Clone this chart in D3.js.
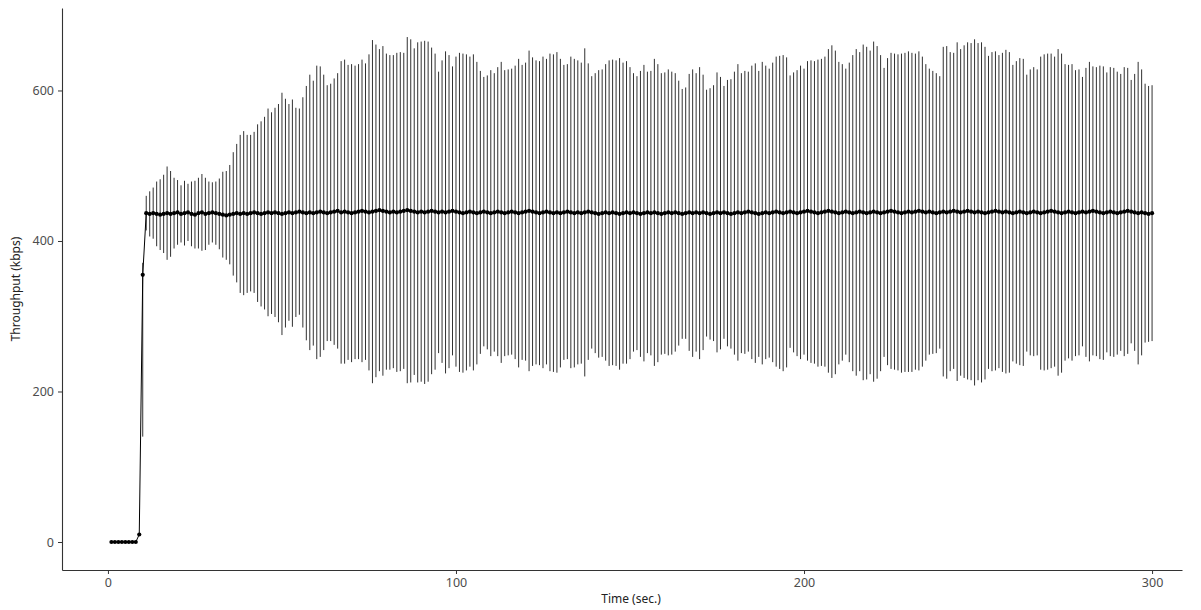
<!DOCTYPE html>
<html>
<head>
<meta charset="utf-8">
<script src="https://cdn.jsdelivr.net/npm/d3@7"></script>
<style>
  body { margin: 0; background: #fff; }
  svg { font-family: "Noto Sans", "Open Sans", sans-serif; }
</style>
</head>
<body>
<div id="chart"></div>
<script>
// seconds 1..300
var time = d3.range(1, 301);

// mean throughput (kbps) per second
var mean = [
  0,0,0,0,0,0,0,0,10,355,
  437,436,437,436,435,436,437,436,437,438,
  436,437,438,436,435,437,438,436,437,438,
  437,436,435,434,435,436,437,436,437,436,
  437,438,437,436,437,438,437,438,437,436,
  437,438,437,438,439,438,437,438,437,438,
  439,438,437,438,439,440,438,439,438,437,
  438,439,440,439,438,439,440,441,440,439,
  438,439,438,439,440,441,440,439,438,439,
  438,439,440,439,438,439,438,439,440,439,
  438,437,438,439,438,437,438,439,438,437,
  438,439,438,437,438,439,438,437,438,439,
  440,439,438,437,438,439,438,437,438,437,
  438,439,438,437,438,437,438,439,438,437,
  436,437,438,437,438,437,436,437,438,437,
  438,437,436,437,438,437,438,437,436,437,
  438,437,438,437,436,437,438,437,438,437,
  438,437,436,437,438,437,438,437,436,437,
  438,437,438,439,438,437,436,437,438,437,
  438,439,438,437,438,439,438,437,438,439,
  440,439,438,437,438,439,440,439,438,437,
  438,439,438,437,438,439,438,437,438,439,
  438,437,438,439,440,439,438,437,438,439,
  438,439,440,439,438,439,438,437,438,439,
  438,439,440,439,438,439,440,439,438,439,
  438,437,438,439,440,439,438,439,438,437,
  438,439,438,437,438,439,438,437,438,439,
  440,439,438,437,438,439,438,437,438,439,
  438,439,440,439,438,437,438,439,438,437,
  438,439,440,439,438,437,438,437,436,437
];

// error bar extent below the mean
var errDown = [
  0,0,0,0,0,0,0,0,0,215,
  23,30,34,43,47,52,62,57,47,43,
  38,43,38,43,45,47,51,48,42,40,
  42,47,57,59,66,82,92,105,109,105,
  104,107,118,123,128,138,134,139,145,161,
  152,144,151,139,137,153,169,183,176,195,
  193,183,170,171,177,183,201,202,196,198,
  195,196,201,197,210,228,221,214,219,210,
  209,208,212,212,210,230,228,217,226,226,
  228,226,217,210,187,201,214,208,192,206,
  212,212,210,206,210,201,188,179,182,190,
  185,192,200,190,190,190,195,205,196,198,
  213,205,202,202,207,203,211,211,213,205,
  196,196,207,205,202,200,218,197,181,186,
  191,191,197,203,203,203,207,200,201,194,
  185,182,190,197,187,189,204,198,187,187,
  190,188,185,176,166,167,184,191,185,194,
  183,164,167,170,186,181,168,177,179,188,
  197,186,188,186,195,199,190,201,195,192,
  199,206,208,210,206,181,186,190,195,190,
  199,201,201,204,204,206,215,221,215,201,
  197,190,199,210,217,212,223,221,215,226,
  221,210,192,204,210,210,210,212,212,213,
  212,210,212,206,197,190,188,186,181,219,
  221,212,210,225,217,221,224,224,230,224,
  226,221,208,212,212,208,212,215,213,197,
  201,204,204,184,190,192,190,208,210,210,
  209,206,217,212,197,195,197,190,190,179,
  192,199,192,192,195,195,186,192,192,188,
  184,192,190,175,184,201,190,172,170,170
];

// error bar extent above the mean (same as below except the ramp-up second)
var errUp = errDown.slice();
errUp[9] = 16;

var yTicks = [0, 200, 400, 600];
var xTicks = [0, 100, 200, 300];

var data = time.map(function(t, i) {
  return {t: t, mean: mean[i], lo: mean[i] - errDown[i], hi: mean[i] + errUp[i]};
});

var width = 1201, height = 610;

var svg = d3.select('#chart')
  .append('svg')
  .attr('width', width)
  .attr('height', height);

var x = d3.scaleLinear()
  .domain([-13.2, 308.6])
  .range([62, 1182]);

var y = d3.scaleLinear()
  .domain([-37.2, 709.6])
  .range([570, 8]);

// error bars
svg.append('g')
  .selectAll('line')
  .data(data.filter(d => d.hi > d.lo))
  .enter()
  .append('line')
  .attr('x1', d => x(d.t))
  .attr('x2', d => x(d.t))
  .attr('y1', d => y(d.lo))
  .attr('y2', d => y(d.hi))
  .attr('stroke', '#1a1a1a')
  .attr('stroke-width', 0.9);

// mean line
var line = d3.line()
  .x(d => x(d.t))
  .y(d => y(d.mean));

svg.append('path')
  .datum(data)
  .attr('d', line)
  .attr('fill', 'none')
  .attr('stroke', 'black')
  .attr('stroke-width', 1);

svg.append('g')
  .selectAll('circle')
  .data(data)
  .enter()
  .append('circle')
  .attr('cx', d => x(d.t))
  .attr('cy', d => y(d.mean))
  .attr('r', 2.1)
  .attr('fill', 'black');

// axes
var xAxis = svg.append('g')
  .attr('transform', 'translate(0,570)')
  .call(d3.axisBottom(x).tickValues(xTicks).tickSize(4).tickSizeOuter(0).tickPadding(4));

var yAxis = svg.append('g')
  .attr('transform', 'translate(62,0)')
  .call(d3.axisLeft(y).tickValues(yTicks).tickSize(4).tickSizeOuter(0).tickPadding(4));

[xAxis, yAxis].forEach(function(a) {
  a.select('.domain').attr('stroke', '#333').attr('stroke-width', 1.1);
  a.selectAll('.tick line').attr('stroke', '#333');
  a.selectAll('.tick text')
    .attr('fill', '#4d4d4d')
    .style('font-size', '12.5px')
    .style('font-family', '"Noto Sans", "Open Sans", sans-serif');
});

// axis titles
svg.append('text')
  .attr('x', 631)
  .attr('y', 603)
  .attr('text-anchor', 'middle')
  .style('font-size', '12px')
  .attr('fill', '#222')
  .text('Time (sec.)');

svg.append('text')
  .attr('transform', 'translate(20,289) rotate(-90)')
  .attr('text-anchor', 'middle')
  .style('font-size', '12px')
  .attr('fill', '#222')
  .text('Throughput (kbps)');
</script>
</body>
</html>
